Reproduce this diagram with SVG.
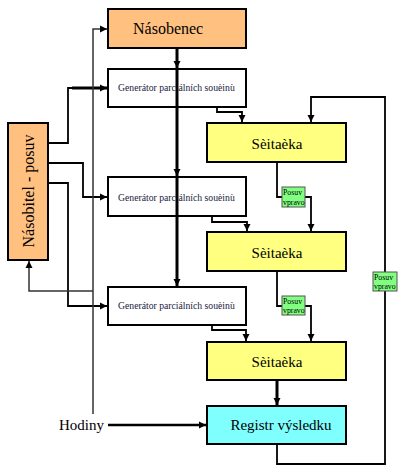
<svg xmlns="http://www.w3.org/2000/svg" width="400" height="473" viewBox="0 0 400 473">
<style>
.box{stroke:#000;stroke-width:2}
.or{fill:#FFC080}
.ye{fill:#FFFF80}
.cy{fill:#80FFFF}
.wh{fill:#fff}
.gr{fill:#80FF80;stroke:#555;stroke-width:1}
.t{font-family:"Liberation Serif",serif;fill:#000}
.big{font-size:16px}
.mid{font-size:15px}
.sm{font-size:9.7px;fill:#1a1a40}
.xs{font-size:7.8px}
.c{fill:none;stroke:#000;stroke-width:1.8}
.thick{fill:none;stroke:#000;stroke-width:3}
.clk{fill:none;stroke:#333;stroke-width:1.5}
</style>
<defs>
<marker id="a" markerUnits="userSpaceOnUse" markerWidth="8" markerHeight="8" refX="7" refY="4" orient="auto">
<path d="M0,0.5 L7,4 L0,7.5 Z" fill="#000"/>
</marker>
</defs>

<g id="nasobenec">
<rect class="box or" x="108" y="9" width="138" height="39"/>
<text class="t big" x="133" y="34">Násobenec</text>
</g>
<g id="generator1">
<rect class="box wh" x="108" y="69" width="138" height="38"/>
<text class="t sm" x="118" y="91">Generátor parciálních souèinù</text>
</g>
<g id="generator2">
<rect class="box wh" x="108" y="177" width="138" height="39"/>
<text class="t sm" x="118" y="201">Generátor parciálních souèinù</text>
</g>
<g id="generator3">
<rect class="box wh" x="108" y="287" width="138" height="38"/>
<text class="t sm" x="118" y="309">Generátor parciálních souèinù</text>
</g>
<g id="nasobitel">
<rect class="box or" x="8" y="123" width="40" height="137"/>
<text class="t big" x="0" y="0" text-anchor="middle" transform="translate(34,191) rotate(-90)">Násobitel - posuv</text>
</g>
<g id="scitacka1">
<rect class="box ye" x="207" y="123" width="139" height="39"/>
<text class="t mid" x="277" y="149" text-anchor="middle">Sèitaèka</text>
</g>
<g id="scitacka2">
<rect class="box ye" x="207" y="232" width="139" height="39"/>
<text class="t mid" x="277" y="258" text-anchor="middle">Sèitaèka</text>
</g>
<g id="scitacka3">
<rect class="box ye" x="207" y="342" width="139" height="38"/>
<text class="t mid" x="277" y="367" text-anchor="middle">Sèitaèka</text>
</g>
<g id="registr">
<rect class="box cy" x="207" y="406" width="139" height="38"/>
<text class="t mid" x="281" y="430" text-anchor="middle">Registr výsledku</text>
</g>
<g id="hodiny">
<text class="t mid" x="59" y="430">Hodiny</text>
</g>

<g id="connectors">
<path class="thick" d="M177,48 V68" marker-end="url(#a)"/>
<path class="thick" d="M177,68 V176" marker-end="url(#a)"/>
<path class="thick" d="M177,176 V286" marker-end="url(#a)"/>
<path class="c" d="M48,143 H68 V88 H73"/>
<path class="thick" d="M72,88 H107" marker-end="url(#a)"/>
<path class="c" d="M48,163 H83 V197 H107" marker-end="url(#a)"/>
<path class="c" d="M48,183 H68 V306 H107" marker-end="url(#a)"/>
<path class="c" d="M217,107 V112 H242 V122" marker-end="url(#a)"/>
<path class="c" d="M212,216 V222 H247 V231" marker-end="url(#a)"/>
<path class="c" d="M212,325 V330 H246 V341" marker-end="url(#a)"/>
<path class="c" d="M277,162 V197 H282"/>
<path class="c" d="M305,197 H311 V231" marker-end="url(#a)"/>
<path class="c" d="M277,271 V306 H282"/>
<path class="c" d="M305,306 H311 V341" marker-end="url(#a)"/>
<path class="thick" d="M277,380 V405" marker-end="url(#a)"/>
<path class="c" d="M277,444 V464 H385 V97 H311 V122" marker-end="url(#a)"/>
<path class="clk" d="M93,414 V29 H107" marker-end="url(#a)"/>
<path class="clk" d="M93,291 H29 V261" marker-end="url(#a)"/>
<path class="c" style="stroke-width:2.5" d="M108,425 H206" marker-end="url(#a)"/>
<g id="posuv1">
<rect class="gr" x="282" y="187" width="23" height="20"/>
<text class="t xs" x="283" y="195">Posuv</text>
<text class="t xs" x="283" y="205">vpravo</text>
</g>
<g id="posuv2">
<rect class="gr" x="282" y="296" width="23" height="19"/>
<text class="t xs" x="283" y="304">Posuv</text>
<text class="t xs" x="283" y="313">vpravo</text>
</g>
<g id="posuv3">
<rect class="gr" x="373" y="272" width="24" height="19"/>
<text class="t xs" x="374" y="280">Posuv</text>
<text class="t xs" x="374" y="289">vpravo</text>
</g>
</g>
</svg>
